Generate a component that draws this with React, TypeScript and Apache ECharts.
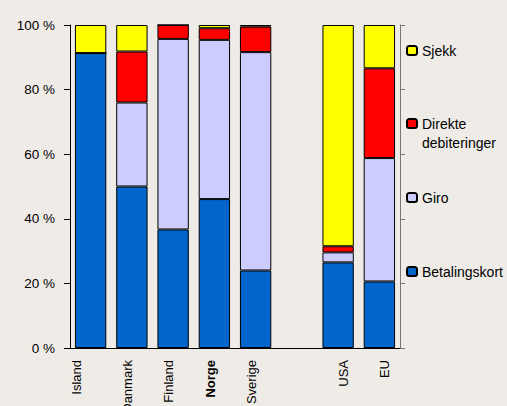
import React, { useEffect, useRef } from "react";
import * as echarts from "echarts";

const categories = ["Island", "Danmark", "Finland", "Norge", "Sverige", "", "USA", "EU"];
const betalingskort = [91.3, 50.0, 36.7, 46.1, 24.0, null, 26.5, 20.6];
const giro = [0, 26.0, 59.0, 49.3, 67.6, null, 3.1, 38.2];
const direkte = [0, 15.8, 4.3, 3.6, 7.9, null, 1.9, 27.8];
const sjekk = [8.7, 8.2, 0, 1.0, 0.5, null, 68.5, 13.4];
const yTicks = [0, 20, 40, 60, 80, 100];

const FONT = "'Liberation Sans', Arial, sans-serif";

// horizontal nudges of the rotated category labels (px, negative = left)
const labelShift: Record<string, number> = {
  Island: -14,
  Danmark: -4,
  Finland: -5,
  Norge: -4,
  Sverige: -4,
  USA: 5,
  EU: 5,
};

export default function App() {
  const ref = useRef<HTMLDivElement>(null);
  useEffect(() => {
    document.body.style.margin = "0";
    if (!ref.current) return;
    const chart = echarts.init(ref.current, null, { renderer: "svg" });
    const mkSeries = (name: string, data: any[], color: string) => ({
      name,
      type: "bar",
      stack: "total",
      data,
      barCategoryGap: "24%",
      itemStyle: { color, borderColor: "#000", borderWidth: 1 },
    });
    const legendBase = {
      orient: "vertical",
      left: 406,
      padding: 0,
      itemWidth: 10,
      itemHeight: 9,
      itemGap: 5,
      textStyle: { fontFamily: FONT, fontSize: 14, color: "#000", lineHeight: 19 },
      selectedMode: false,
    };
    const rich: Record<string, any> = {};
    categories.forEach((c, i) => {
      const s = labelShift[c] || 0;
      rich["c" + i] = {
        fontFamily: FONT,
        fontSize: 13,
        color: "#000",
        fontWeight: c === "Norge" ? "bold" : "normal",
        padding: s < 0 ? [0, 0, -2 * s, 0] : [2 * s, 0, 0, 0],
      };
    });
    chart.setOption({
      animation: false,
      backgroundColor: "#EFECE8",
      grid: {
        left: 70,
        right: 107,
        top: 25,
        bottom: 58,
        containLabel: false,
        outerBoundsMode: "none",
      },
      legend: [
        { ...legendBase, data: ["Sjekk"], top: 41 },
        {
          ...legendBase,
          data: ["Direkte debiteringer"],
          top: 95,
          formatter: () => " \nDirekte\ndebiteringer",
        },
        { ...legendBase, data: ["Giro"], top: 188 },
        { ...legendBase, data: ["Betalingskort"], top: 262 },
      ],
      xAxis: {
        type: "category",
        data: categories,
        axisLine: { show: true, lineStyle: { color: "#000", width: 1 } },
        axisTick: { show: false },
        axisLabel: {
          rotate: 90,
          interval: 0,
          margin: 12,
          fontFamily: FONT,
          fontSize: 13,
          color: "#000",
          formatter: (v: string, i: number) => (v ? `{c${i}|${v}}` : ""),
          rich,
        },
      },
      yAxis: [
        {
          type: "value",
          min: 0,
          max: 100,
          interval: 20,
          axisLine: { show: true, lineStyle: { color: "#000", width: 1 } },
          axisTick: { show: true, length: 6, lineStyle: { color: "#000" } },
          splitLine: { show: false },
          axisLabel: {
            formatter: (v: number) => (yTicks.includes(v) ? `${v} %` : ""),
            margin: 15,
            fontFamily: FONT,
            fontSize: 13.5,
            color: "#000",
          },
        },
        {
          type: "value",
          position: "right",
          min: 0,
          max: 100,
          interval: 20,
          axisLine: { show: true, lineStyle: { color: "#777", width: 1 } },
          axisTick: { show: true, length: 5, lineStyle: { color: "#777" } },
          splitLine: { show: false },
          axisLabel: { show: false },
        },
      ],
      series: [
        mkSeries("Betalingskort", betalingskort, "#0066CC"),
        mkSeries("Giro", giro, "#CCCCFF"),
        mkSeries("Direkte debiteringer", direkte, "#FF0000"),
        mkSeries("Sjekk", sjekk, "#FFFF00"),
      ],
    });
    return () => chart.dispose();
  }, []);
  return <div ref={ref} style={{ width: 507, height: 406 }} />;
}
